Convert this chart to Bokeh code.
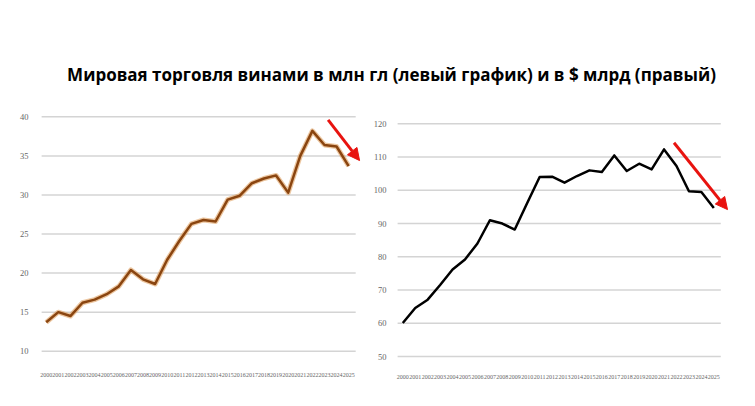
from bokeh.plotting import figure
from bokeh.layouts import column, row
from bokeh.models import Range1d, FixedTicker, Arrow, NormalHead
from bokeh.core.properties import value
from bokeh.embed import file_html
from bokeh.resources import INLINE

# ---------------- data ----------------
years = list(range(2000, 2026))
volume_mhl = [13.7, 15.0, 14.5, 16.2, 16.6, 17.3, 18.3, 20.4, 19.2, 18.6,
              21.7, 24.1, 26.3, 26.8, 26.6, 29.4, 29.9, 31.5, 32.1, 32.5,
              30.3, 35.0, 38.2, 36.4, 36.2, 33.7]
value_bn_usd = [60.1, 64.6, 67.1, 71.5, 76.2, 79.2, 84.0, 91.0, 90.0, 88.2,
                96.2, 104.0, 104.1, 102.3, 104.3, 106.0, 105.5, 110.5, 105.8, 108.0,
                106.3, 112.3, 107.3, 99.7, 99.5, 94.7]
left_ticks = [10, 15, 20, 25, 30, 35, 40]
right_ticks = [50, 60, 70, 80, 90, 100, 110, 120]
title_text = "Мировая торговля винами в млн гл (левый график) и в $ млрд (правый)"

# trend arrows (annotation positions, data units)
left_arrow = (2023.3, 39.6, 2025.9, 34.4)
right_arrow = (2021.8, 114.3, 2026.1, 94.2)

TICK_COLOR = "#666666"
GRID_COLOR = "#d4d4d4"
RED = "#e8130f"
TICK_FONT = "Liberation Serif"


def base_fig(width, xr, yr, mb_left, mb_right):
    p = figure(width=width, height=290, x_range=Range1d(*xr), y_range=Range1d(*yr),
               output_backend="svg", toolbar_location=None, title=None,
               min_border_left=mb_left, min_border_right=mb_right,
               min_border_top=4, min_border_bottom=38)
    p.outline_line_color = None
    p.xgrid.visible = False
    p.ygrid.visible = False
    for ax in (p.xaxis, p.yaxis):
        ax.axis_line_color = None
        ax.major_tick_line_color = None
        ax.minor_tick_line_color = None
        ax.major_label_text_font = TICK_FONT
        ax.major_label_text_color = TICK_COLOR
    p.xaxis.ticker = FixedTicker(ticks=years)
    p.xaxis.major_label_text_font_size = "6px"
    p.yaxis.major_label_text_font_size = "8.5px"
    return p


# ---------------- left chart ----------------
lx = (1999.61, 2026.06)
ly = (8.94, 40.68)
left = base_fig(370, lx, ly, 41, 9)
left.yaxis.ticker = FixedTicker(ticks=left_ticks)
left.yaxis.major_label_standoff = 7
left.xaxis.major_label_standoff = 7
left.segment(x0=[1999.59] * len(left_ticks), x1=[2025.58] * len(left_ticks),
             y0=left_ticks, y1=left_ticks, line_color=GRID_COLOR, line_width=1.5)
left.line(years, volume_mhl, line_color="#e0a060", line_width=5, line_alpha=0.6,
          line_join="round")
left.line(years, volume_mhl, line_color="#8a4510", line_width=2.5, line_join="round")
left.add_layout(Arrow(end=NormalHead(size=12, fill_color=RED, line_color=RED),
                      x_start=left_arrow[0], y_start=left_arrow[1],
                      x_end=left_arrow[2], y_end=left_arrow[3],
                      line_color=RED, line_width=3))

# ---------------- right chart ----------------
rx = (1999.574, 2026.26)
ry = (49.10, 123.71)
right = base_fig(376, rx, ry, 27, 17)
right.yaxis.ticker = FixedTicker(ticks=right_ticks)
right.yaxis.major_label_standoff = 5
right.xaxis.major_label_standoff = 9
right.segment(x0=[1999.55] * len(right_ticks), x1=[2025.56] * len(right_ticks),
              y0=right_ticks, y1=right_ticks, line_color=GRID_COLOR, line_width=1.5)
right.line(years, value_bn_usd, line_color="#000000", line_width=2.5, line_join="round")
right.add_layout(Arrow(end=NormalHead(size=12, fill_color=RED, line_color=RED),
                       x_start=right_arrow[0], y_start=right_arrow[1],
                       x_end=right_arrow[2], y_end=right_arrow[3],
                       line_color=RED, line_width=3))

# ---------------- title ----------------
tfig = figure(width=746, height=107, x_range=Range1d(0, 746), y_range=Range1d(0, 107),
              output_backend="svg", toolbar_location=None, title=None, min_border=0)
tfig.axis.visible = False
tfig.grid.visible = False
tfig.outline_line_color = None
tfig.text(x=[391], y=[33], text=[title_text], text_font=value("Open Sans"),
          text_font_style="bold", text_font_size="17px", text_align="center",
          text_baseline="alphabetic", text_color="#000000")

layout = column(tfig, row(left, right))
open("out.html", "w").write(file_html(layout, INLINE))
